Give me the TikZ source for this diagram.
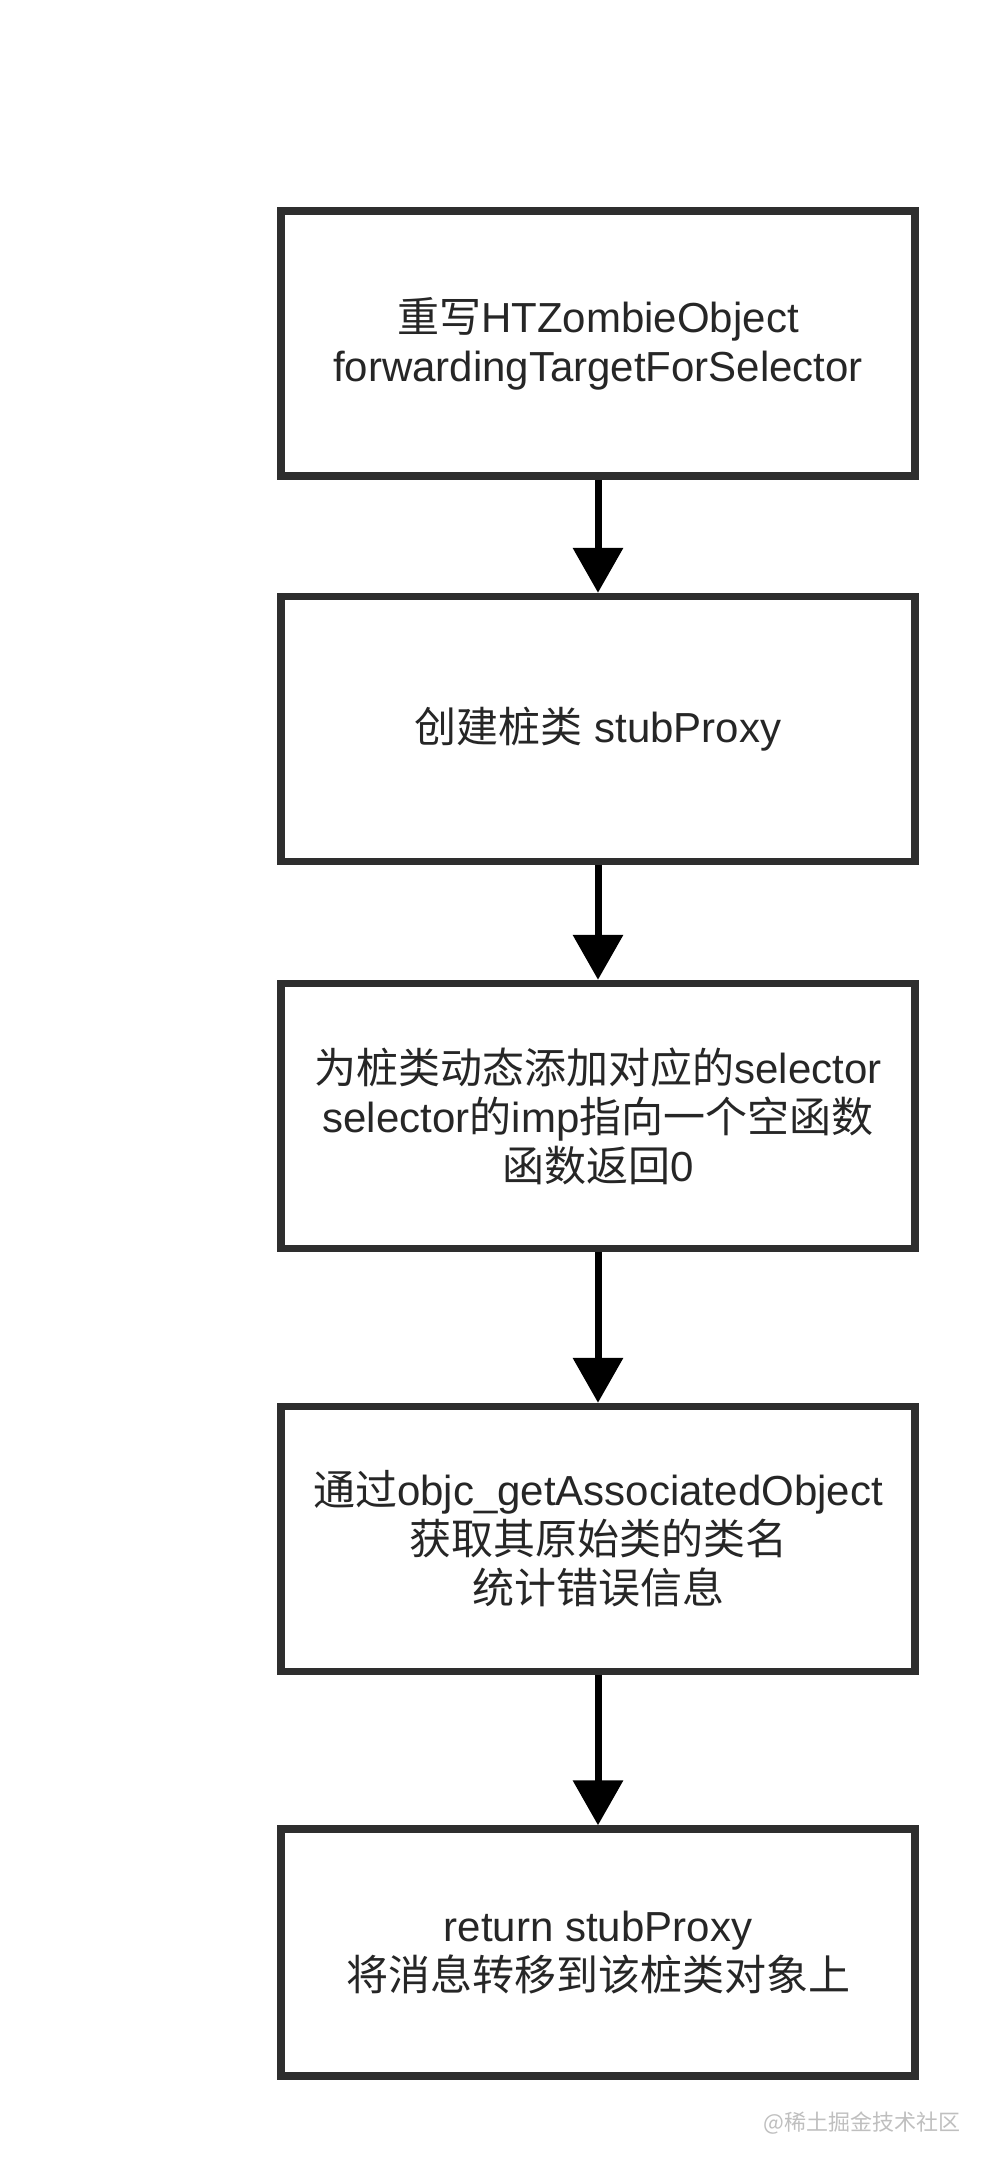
\documentclass[tikz,border=0pt]{standalone}
\usepackage{fontspec}
\setmainfont{Liberation Sans}
\newfontfamily\cjk{Noto Sans CJK SC}
\usetikzlibrary{arrows.meta}
\newcommand{\zh}[1]{{\cjk #1}}
\tikzset{
  stepbox/.style={draw=black!82, line width=7.5pt, minimum width=634pt,
    minimum height=265pt, align=center, inner sep=0pt, text=black!85,
    font=\fontsize{42}{49}\selectfont},
  flow/.style={line width=7pt, -{Triangle[width=49pt,length=45pt]}}
}
\begin{document}
\begin{tikzpicture}[x=1pt,y=-1pt]
 \useasboundingbox[fill=white] (0,0) rectangle (986,2164);
 % steps
 \node[stepbox] (rewrite) at (598,343.5) {\zh{重写}HTZombieObject\\forwardingTargetForSelector};
 \node[stepbox] (stub) at (598,729) {\zh{创建桩类} stubProxy};
 \node[stepbox] (addsel) at (598,1116) {\zh{为桩类动态添加对应的}selector\\selector\zh{的}imp\zh{指向一个空函数}\\\zh{函数返回}0};
 \node[stepbox] (stats) at (598,1539) {\zh{通过}objc\_getAssociatedObject\\\zh{获取其原始类的类名}\\\zh{统计错误信息}};
 \node[stepbox,minimum height=247pt] (ret) at (598,1952.5) {return stubProxy\\\zh{将消息转移到该桩类对象上}};
 % arrows
 \draw[flow] (rewrite.south) -- (stub.north);
 \draw[flow] (stub.south) -- (addsel.north);
 \draw[flow] (addsel.south) -- (stats.north);
 \draw[flow] (stats.south) -- (ret.north);
 % watermark
 \node[text=black!25, font=\cjk\fontsize{22}{24}\selectfont] (mark) at (862,2123) {@稀土掘金技术社区};
\end{tikzpicture}
\end{document}
